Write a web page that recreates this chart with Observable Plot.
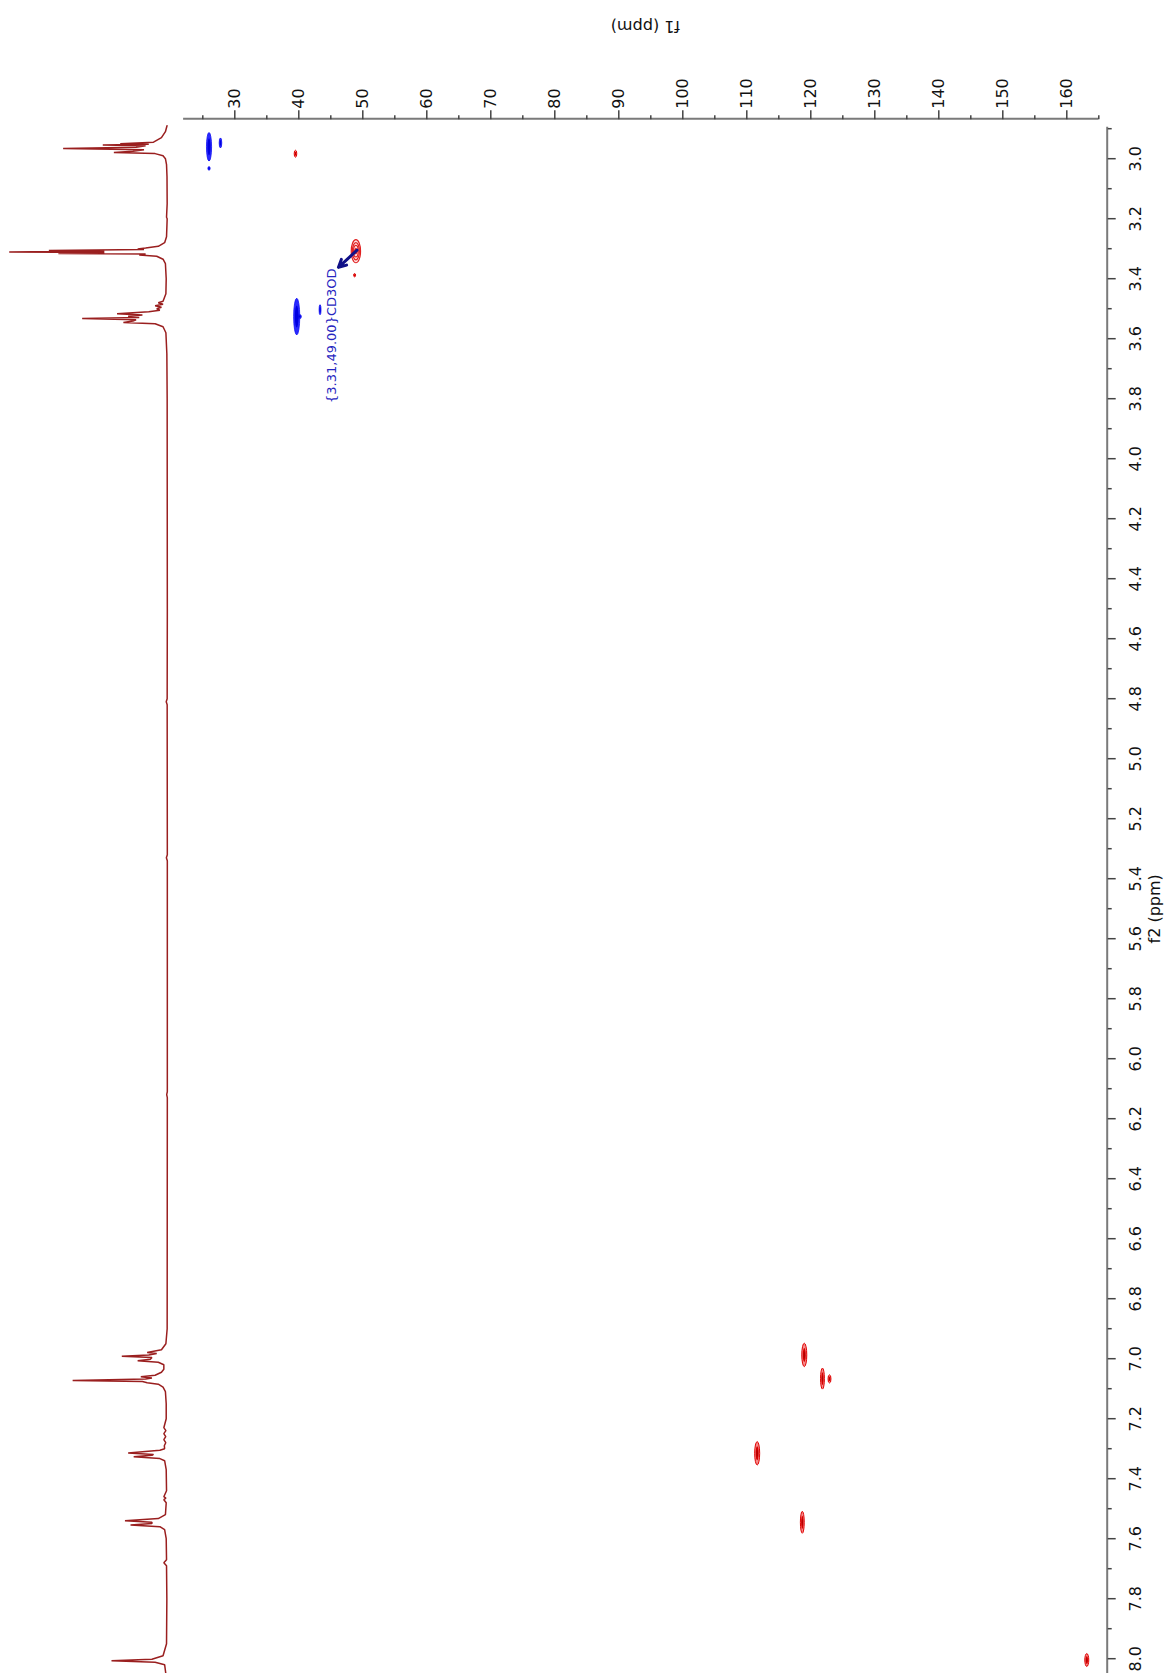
<!DOCTYPE html>
<html><head><meta charset="utf-8">
<script src="https://cdn.jsdelivr.net/npm/d3@7"></script>
<script src="https://cdn.jsdelivr.net/npm/@observablehq/plot@0.6"></script>
<style>
html,body{margin:0;padding:0;background:#fff;}
#wrap{position:relative;width:1170px;height:1673px;overflow:hidden;background:#fff;}
#wrap svg{position:absolute;left:0;top:0;}
</style></head><body><div id="wrap"></div>
<script>
// ---- axis ticks (ppm) ----
const f1Major = [30, 40, 50, 60, 70, 80, 90, 100, 110, 120, 130, 140, 150, 160];
const f1Minor = [25, 35, 45, 55, 65, 75, 85, 95, 105, 115, 125, 135, 145, 155, 165];
const f2Major = [3.0, 3.2, 3.4, 3.6, 3.8, 4.0, 4.2, 4.4, 4.6, 4.8, 5.0, 5.2, 5.4, 5.6, 5.8, 6.0, 6.2, 6.4, 6.6, 6.8, 7.0, 7.2, 7.4, 7.6, 7.8, 8.0];
const f2Minor = [2.9, 3.1, 3.3, 3.5, 3.7, 3.9, 4.1, 4.3, 4.5, 4.7, 4.9, 5.1, 5.3, 5.5, 5.7, 5.9, 6.1, 6.3, 6.5, 6.7, 6.9, 7.1, 7.3, 7.5, 7.7, 7.9];

// ---- 1H projection spectrum (ppm, relative intensity) ----
const specPpm = [2.89, 2.91, 2.93, 2.945, 2.950, 2.952, 2.954, 2.957, 2.962, 2.966, 2.970, 2.975, 2.979, 2.983, 2.99, 3.00, 3.02, 3.06, 3.15, 3.195, 3.20, 3.26, 3.28, 3.292, 3.298, 3.301, 3.303, 3.306, 3.308, 3.311, 3.313, 3.316, 3.318, 3.321, 3.325, 3.335, 3.35, 3.40, 3.45, 3.475, 3.48, 3.485, 3.49, 3.495, 3.50, 3.505, 3.510, 3.517, 3.521, 3.525, 3.529, 3.533, 3.537, 3.541, 3.546, 3.550, 3.56, 3.58, 3.65, 3.8, 4.5, 4.80, 4.81, 4.82, 5.32, 5.33, 5.34, 6.11, 6.12, 6.13, 6.9, 6.95, 6.97, 6.979, 6.983, 6.988, 6.992, 6.996, 7.002, 7.007, 7.012, 7.02, 7.035, 7.045, 7.055, 7.060, 7.064, 7.068, 7.073, 7.076, 7.080, 7.085, 7.095, 7.11, 7.15, 7.2, 7.23, 7.24, 7.25, 7.26, 7.27, 7.28, 7.29, 7.30, 7.305, 7.314, 7.319, 7.322, 7.327, 7.333, 7.34, 7.37, 7.44, 7.46, 7.465, 7.47, 7.48, 7.52, 7.533, 7.54, 7.545, 7.549, 7.554, 7.56, 7.57, 7.6, 7.67, 7.68, 7.69, 7.8, 7.95, 7.99, 8.002, 8.007, 8.012, 8.02, 8.06];
const specInt = [0.5, 1.5, 4, 9, 30, 12, 41, 14, 20, 66, 15, 22, 34, 8, 3, 1.5, 0.8, 0.5, 0.4, 0.8, 0.4, 0.8, 2, 6, 14, 19, 15, 75, 40, 100, 40, 69, 14, 18, 7, 3, 1.5, 1, 1.2, 3, 6, 3, 8, 4, 7, 5, 12, 32, 16, 25, 18, 54, 20, 22, 28, 8, 3, 1.2, 0.6, 0.4, 0.3, 0.4, 1, 0.4, 0.3, 0.9, 0.3, 0.3, 0.7, 0.3, 0.4, 1.2, 4, 13, 7, 12, 29, 10, 11, 19, 6, 2.5, 2.5, 4, 8, 17, 10, 14, 60, 16, 13, 6, 3, 1.5, 1, 1, 2.5, 1.2, 2.5, 1.3, 2.5, 1.3, 2.2, 2, 5, 25, 9, 10, 21.5, 5, 2, 1, 0.8, 2.5, 1.2, 2.5, 1, 1.5, 6, 27, 10, 10, 23.5, 5, 2, 1, 0.8, 2.5, 0.8, 0.6, 0.8, 3, 10, 35.5, 8, 2, 1];

// ---- HSQC cross peaks: f1 = 13C ppm, f2 = 1H ppm, lw = contour extent (ppm) ----
// negative phase (blue)
const negF1 = [26.05, 26.05, 27.84, 39.75, 40.2, 43.4];
const negF2 = [2.962, 3.034, 2.949, 3.528, 3.528, 3.505];
const negW1 = [0.80, 0.35, 0.40, 0.95, 0.55, 0.30];
const negW2 = [0.095, 0.012, 0.033, 0.122, 0.014, 0.033];
// positive phase (red)
const posF1 = [39.56, 48.8, 119.06, 121.9, 123.0, 111.7, 118.75, 163.2];
const posF2 = [2.985, 3.39, 6.989, 7.068, 7.069, 7.317, 7.547, 8.006];
const posW1 = [0.40, 0.30, 0.78, 0.60, 0.45, 0.78, 0.60, 0.62];
const posW2 = [0.023, 0.011, 0.078, 0.070, 0.027, 0.078, 0.073, 0.043];
// solvent peak
const solvF1 = [49.0];
const solvF2 = [3.31];
const solvW1 = [1.45];
const solvW2 = [0.077];
const solvLabel = ["{3.31,49.00}CD3OD"];
const labelF1 = [45.2];
const labelF2 = [3.366];
const arrowFrom = {f1: 49.1, f2: 3.305};
const arrowTo = {f1: 46.2, f2: 3.362};

const xDomain = [22, 165], xRange = [183.1, 1098.3];
const yDomain = [2.895, 8.05], yRange = [126.7, 1673.2];
const font = "DejaVu Sans";

function rows(F1, F2, W1, W2, k) {
  return F1.map((f, i) => ({x1: f - W1[i] * k / 2, x2: f + W1[i] * k / 2,
                            y1: F2[i] - W2[i] * k / 2, y2: F2[i] + W2[i] * k / 2}));
}
const ell = (data, opts) => Plot.rect(data, {x1: "x1", x2: "x2", y1: "y1", y2: "y2", rx: 200, ry: 200, ...opts});

// ---- spectrum plot ----
const spec = specPpm.map((p, i) => ({p, v: specInt[i]}));
const specPlot = Plot.plot({
  width: 180, height: 1673,
  marginLeft: 0, marginRight: 0, marginTop: 0, marginBottom: 0,
  x: {domain: [0, 100], range: [167.3, 8.7], axis: null},
  y: {domain: yDomain, range: yRange, axis: null},
  style: {background: "transparent", overflow: "visible"},
  marks: [
    Plot.line(spec, {x: "v", y: "p", stroke: "#9a1f1f", strokeWidth: 1.5, strokeLinejoin: "miter"})
  ]
});

// ---- 2D plot ----
const plot2d = Plot.plot({
  width: 1170, height: 1673,
  marginLeft: 183.1, marginRight: 63.3, marginTop: 118.3, marginBottom: 0,
  x: {domain: xDomain, range: xRange},
  y: {domain: yDomain, range: yRange},
  style: {background: "transparent", overflow: "visible", fontFamily: font},
  marks: [
    // axes lines
    Plot.ruleY([yDomain[0]], {x1: xDomain[0], x2: xDomain[1], dy: -8.4, stroke: "#7a7a7a", strokeWidth: 2}),
    Plot.ruleX([xDomain[1]], {y1: yDomain[0], y2: 8.1, dx: 8.4, stroke: "#7a7a7a", strokeWidth: 2}),
    Plot.axisX({anchor: "top", ticks: f1Major, tickSize: 9, tickFormat: () => "", label: null, stroke: "#444", strokeWidth: 1.5}),
    Plot.axisX({anchor: "top", ticks: f1Minor, tickSize: 4, tickFormat: () => "", label: null, stroke: "#444", strokeWidth: 1.5}),
    Plot.axisY({anchor: "right", ticks: f2Major, tickSize: 8, tickFormat: () => "", label: null, stroke: "#444", strokeWidth: 1.5}),
    Plot.axisY({anchor: "right", ticks: f2Minor, tickSize: 4, tickFormat: () => "", label: null, stroke: "#444", strokeWidth: 1.5}),
    Plot.text(f1Major, {x: d => d, frameAnchor: "top", dy: -10, rotate: -90, textAnchor: "start", lineAnchor: "middle", fontSize: 16, fill: "#111"}),
    Plot.text(f2Major, {y: d => d, text: d => d.toFixed(1), frameAnchor: "right", dx: 28.5, rotate: -90, textAnchor: "middle", lineAnchor: "middle", fontSize: 16, fill: "#111"}),
    Plot.text(["f1 (ppm)"], {frameAnchor: "top", dy: -86, rotate: 180, fontSize: 16, fill: "#111"}),
    Plot.text(["f2 (ppm)"], {frameAnchor: "right", dx: 47.5, dy: -22, rotate: -90, fontSize: 16, fill: "#111"}),
    // negative contours (blue)
    ell(rows(negF1, negF2, negW1, negW2, 1), {fill: "#2a2aff", stroke: "#1010f0", strokeWidth: 0.8}),
    ell(rows(negF1, negF2, negW1, negW2, 0.6), {fill: "#0000e0"}),
    // positive contours (red)
    ell(rows(posF1, posF2, posW1, posW2, 1), {fill: "#f04040", fillOpacity: 0.6, stroke: "#e00000", strokeWidth: 1}),
    ell(rows(posF1, posF2, posW1, posW2, 0.6), {fill: "#d40000"}),
    ell(rows(posF1, posF2, posW1, posW2, 0.3), {fill: "#b00000"}),
    // solvent peak rings
    ell(rows(solvF1, solvF2, solvW1, solvW2, 1), {fill: "#ffe0e0", stroke: "#e02020", strokeWidth: 1.2}),
    ell(rows(solvF1, solvF2, solvW1, solvW2, 0.75), {fill: "none", stroke: "#e02020", strokeWidth: 1.2}),
    ell(rows(solvF1, solvF2, solvW1, solvW2, 0.5), {fill: "none", stroke: "#e02020", strokeWidth: 1.2}),
    ell(rows(solvF1, solvF2, solvW1, solvW2, 0.25), {fill: "#e02020", stroke: "#e02020", strokeWidth: 1}),
    // annotation
    Plot.arrow([arrowFrom], {x1: "f1", y1: "f2", x2: () => arrowTo.f1, y2: () => arrowTo.f2, stroke: "#101088", strokeWidth: 3, headLength: 14, headAngle: 55, bend: 0}),
    Plot.text(solvLabel, {x: () => labelF1[0], y: () => labelF2[0], rotate: -90, textAnchor: "end", lineAnchor: "middle", fontSize: 13, fill: "#2626c0"})
  ]
});

const wrap = document.getElementById("wrap");
wrap.appendChild(specPlot);
wrap.appendChild(plot2d);
</script>
</body></html>
